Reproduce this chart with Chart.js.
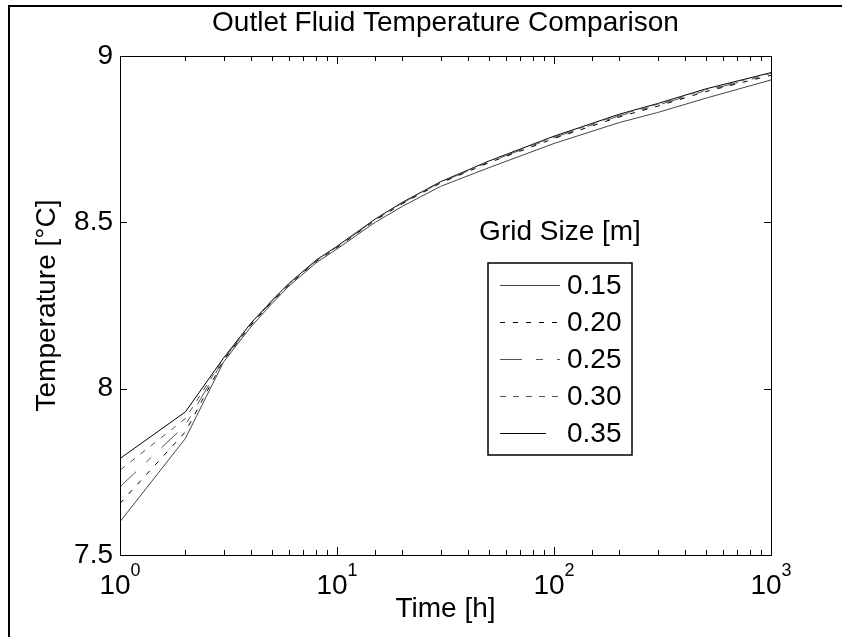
<!DOCTYPE html>
<html>
<head>
<meta charset="utf-8">
<script src="https://cdn.jsdelivr.net/npm/chart.js@4.4.1/dist/chart.umd.min.js"></script>
<style>
  html, body { margin: 0; padding: 0; background: #fff; }
  #wrap { width: 842px; height: 637px; position: relative; }
</style>
</head>
<body>
<div id="wrap"><canvas id="chart"></canvas></div>
<script>
// time steps [h] and outlet temperature [°C] per grid size
const timeHours = [1, 2, 3, 4, 5, 6, 8, 10, 15, 20, 30, 50, 100, 200, 300, 500, 1000];
const grid015 = [7.600, 7.850, 8.080, 8.185, 8.255, 8.308, 8.378, 8.420, 8.500, 8.548, 8.608, 8.664, 8.737, 8.800, 8.830, 8.873, 8.928];
const grid020 = [7.655, 7.870, 8.085, 8.190, 8.260, 8.312, 8.382, 8.424, 8.506, 8.556, 8.618, 8.679, 8.752, 8.817, 8.849, 8.893, 8.942];
const grid025 = [7.705, 7.890, 8.088, 8.192, 8.262, 8.314, 8.384, 8.426, 8.508, 8.558, 8.620, 8.681, 8.755, 8.820, 8.852, 8.896, 8.945];
const grid030 = [7.755, 7.910, 8.090, 8.194, 8.263, 8.315, 8.385, 8.427, 8.509, 8.559, 8.621, 8.683, 8.757, 8.823, 8.855, 8.899, 8.948];
const grid035 = [7.790, 7.930, 8.092, 8.196, 8.264, 8.316, 8.386, 8.428, 8.510, 8.560, 8.622, 8.684, 8.759, 8.825, 8.857, 8.901, 8.950];
const gridLabels = ['0.15', '0.20', '0.25', '0.30', '0.35'];
const yMin = 7.5, yMax = 9, yStep = 0.5;
const xMin = 1, xMax = 1000;

const FONT = '"Liberation Sans", Arial, sans-serif';
Chart.defaults.font.family = FONT;
Chart.defaults.color = '#000';

const styles = [
  { color: '#444', dash: [] },
  { color: '#000', dash: [5, 8] },
  { color: '#555', dash: [22, 14, 7, 14] },
  { color: '#555', dash: [6, 7] },
  { color: '#000', dash: [] }
];

const seriesValues = [grid015, grid020, grid025, grid030, grid035];
const datasets = seriesValues.map((vals, i) => ({
  label: gridLabels[i],
  data: timeHours.map((t, k) => ({ x: t, y: vals[k] })),
  borderColor: styles[i].color,
  borderDash: styles[i].dash,
  borderWidth: 1,
  pointRadius: 0,
  tension: 0,
  fill: false
}));

const isDecade = v => Math.abs(Math.log10(v) - Math.round(Math.log10(v))) < 1e-9;

const matlabAxes = {
  id: 'matlabAxes',
  afterDraw(chart) {
    const { ctx, chartArea: a, scales: { x, y } } = chart;
    ctx.save();
    ctx.strokeStyle = '#000';
    ctx.lineWidth = 1;
    ctx.setLineDash([]);
    ctx.strokeRect(a.left + 0.5, a.top + 0.5, a.right - a.left, a.bottom - a.top);

    // inward ticks on all four sides
    ctx.beginPath();
    x.ticks.forEach(t => {
      const px = Math.round(x.getPixelForValue(t.value)) + 0.5;
      const len = isDecade(t.value) ? 8 : 5;
      ctx.moveTo(px, a.bottom); ctx.lineTo(px, a.bottom - len);
      ctx.moveTo(px, a.top); ctx.lineTo(px, a.top + len);
    });
    y.ticks.forEach(t => {
      const py = Math.round(y.getPixelForValue(t.value)) + 0.5;
      ctx.moveTo(a.left, py); ctx.lineTo(a.left + 7, py);
      ctx.moveTo(a.right, py); ctx.lineTo(a.right - 7, py);
    });
    ctx.stroke();

    // decade labels 10^n
    ctx.fillStyle = '#000';
    ctx.textAlign = 'left';
    ctx.textBaseline = 'alphabetic';
    x.ticks.filter(t => isDecade(t.value)).forEach(t => {
      const px = x.getPixelForValue(t.value);
      const exp = String(Math.round(Math.log10(t.value)));
      ctx.font = '28px ' + FONT;
      const wb = ctx.measureText('10').width;
      ctx.font = '18px ' + FONT;
      const we = ctx.measureText(exp).width;
      const start = px - (wb + we) / 2;
      ctx.font = '28px ' + FONT;
      ctx.fillText('10', start, a.bottom + 39);
      ctx.font = '18px ' + FONT;
      ctx.fillText(exp, start + wb, a.bottom + 21);
    });

    // legend
    const lx = 488, ly = 263, lw = 144, lh = 192;
    ctx.font = '28px ' + FONT;
    ctx.textAlign = 'center';
    ctx.textBaseline = 'middle';
    ctx.fillText('Grid Size [m]', lx + lw / 2, 232);
    ctx.fillStyle = '#fff';
    ctx.fillRect(lx, ly, lw, lh);
    ctx.lineWidth = 1.5;
    ctx.strokeStyle = '#000';
    ctx.strokeRect(lx, ly, lw, lh);
    ctx.textAlign = 'left';
    chart.data.datasets.forEach((ds, i) => {
      const ry = ly + 22 + i * 37;
      const sampleLen = i === 4 ? 46 : 60;
      ctx.beginPath();
      ctx.strokeStyle = ds.borderColor;
      ctx.lineWidth = 1;
      ctx.setLineDash(ds.borderDash);
      ctx.moveTo(lx + 12, ry + 0.5);
      ctx.lineTo(lx + 12 + sampleLen, ry + 0.5);
      ctx.stroke();
      ctx.setLineDash([]);
      ctx.fillStyle = '#000';
      ctx.fillText(ds.label, lx + 79, ry + 1);
    });

    // outer figure frame
    ctx.strokeStyle = '#000';
    ctx.lineWidth = 2;
    ctx.beginPath();
    ctx.moveTo(9, chart.height);
    ctx.lineTo(9, 6);
    ctx.lineTo(chart.width, 6);
    ctx.stroke();
    ctx.restore();
  }
};

new Chart(document.getElementById('chart'), {
  type: 'line',
  data: { datasets },
  options: {
    responsive: true,
    maintainAspectRatio: false,
    animation: false,
    layout: { padding: { left: 0, right: 71, top: 0, bottom: 0 } },
    plugins: {
      legend: { display: false },
      tooltip: { enabled: false },
      title: {
        display: true,
        text: 'Outlet Fluid Temperature Comparison',
        fullSize: false,
        color: '#000',
        font: { size: 28, weight: 'normal', family: FONT },
        padding: { top: 6.5, bottom: 15.9 }
      }
    },
    scales: {
      x: {
        type: 'logarithmic',
        min: xMin,
        max: xMax,
        grid: { display: false, drawTicks: false },
        border: { display: false },
        ticks: { display: false },
        title: {
          display: true,
          text: 'Time [h]',
          color: '#000',
          font: { size: 28, family: FONT },
          padding: { top: 0, bottom: 11 }
        },
        afterFit(scale) { scale.height = 82; }
      },
      y: {
        min: yMin,
        max: yMax,
        grid: { display: false, drawTicks: false },
        border: { display: false },
        ticks: {
          stepSize: yStep,
          padding: 7,
          color: '#000',
          font: { size: 28, family: FONT },
          callback: value => String(value)
        },
        title: {
          display: true,
          text: 'Temperature [°C]',
          color: '#000',
          font: { size: 28, family: FONT },
          padding: { top: 30, bottom: 0 }
        },
        afterFit(scale) { scale.width = 120; }
      }
    }
  },
  plugins: [matlabAxes]
});
</script>
</body>
</html>
